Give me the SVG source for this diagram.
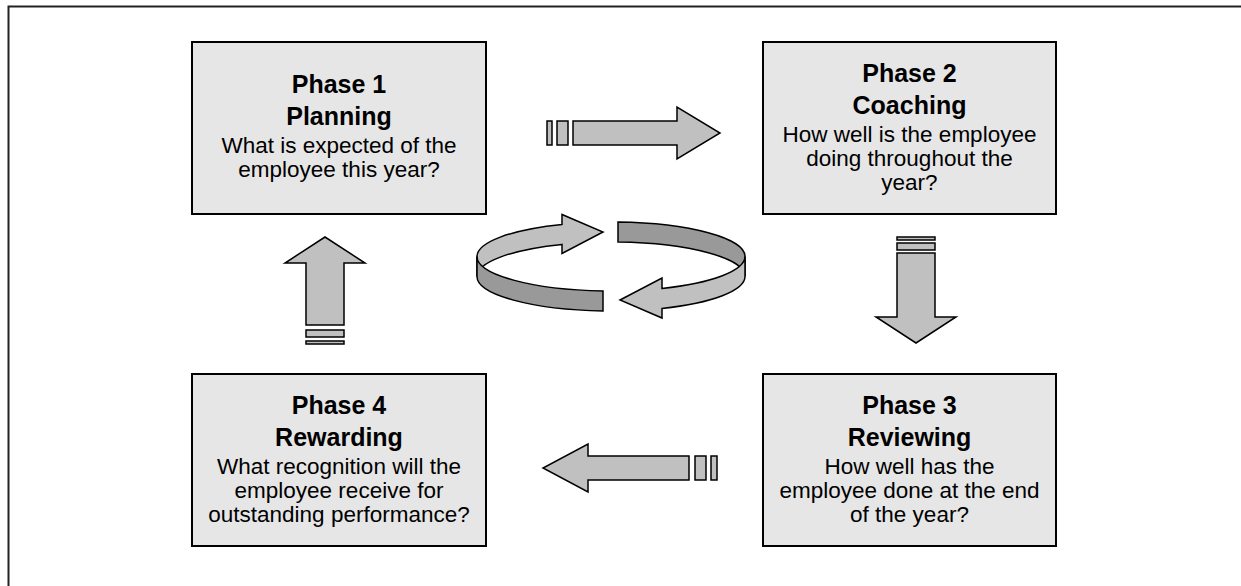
<svg xmlns="http://www.w3.org/2000/svg" width="1241" height="586" viewBox="0 0 1241 586">
<style>
.box{fill:#e6e6e6;stroke:#000;stroke-width:2}
.t{font-family:"Liberation Sans",Arial,sans-serif;fill:#000;text-anchor:middle}
.b{font-weight:bold;font-size:25px}
.r{font-size:22.5px}
.arr{fill:#c0c0c0;stroke:#000;stroke-width:1.5;stroke-linejoin:miter}
.dk{fill:#999999;stroke:#000;stroke-width:1.5}
</style>
<rect width="1241" height="586" fill="#fff"/>
<path d="M8.5,586 V6.5 H1241" fill="none" stroke="#222" stroke-width="2"/>

<g id="phase1">
<rect class="box" x="192" y="42" width="294" height="172"/>
<text class="t b" x="339" y="93">Phase 1</text>
<text class="t b" x="339" y="125">Planning</text>
<text class="t r" x="339" y="153">What is expected of the</text>
<text class="t r" x="339" y="177">employee this year?</text>
</g>

<g id="phase2">
<rect class="box" x="763" y="42" width="293" height="172"/>
<text class="t b" x="909.5" y="82">Phase 2</text>
<text class="t b" x="909.5" y="114">Coaching</text>
<text class="t r" x="909.5" y="142">How well is the employee</text>
<text class="t r" x="909.5" y="166">doing throughout the</text>
<text class="t r" x="909.5" y="190">year?</text>
</g>

<g id="phase3">
<rect class="box" x="763" y="374" width="293" height="172"/>
<text class="t b" x="909.5" y="414">Phase 3</text>
<text class="t b" x="909.5" y="446">Reviewing</text>
<text class="t r" x="909.5" y="474">How well has the</text>
<text class="t r" x="909.5" y="498">employee done at the end</text>
<text class="t r" x="909.5" y="522">of the year?</text>
</g>

<g id="phase4">
<rect class="box" x="192" y="374" width="294" height="172"/>
<text class="t b" x="339" y="414">Phase 4</text>
<text class="t b" x="339" y="446">Rewarding</text>
<text class="t r" x="339" y="474">What recognition will the</text>
<text class="t r" x="339" y="498">employee receive for</text>
<text class="t r" x="339" y="522">outstanding performance?</text>
</g>

<g id="connectors">
<g id="arrow-right">
<rect class="arr" x="547" y="121" width="5" height="24"/>
<rect class="arr" x="557" y="121" width="11" height="24"/>
<polygon class="arr" points="573,121 677,121 677,107 720,133 677,159 677,145 573,145"/>
</g>
<g id="arrow-down">
<rect class="arr" x="897" y="237" width="38" height="3"/>
<rect class="arr" x="897" y="243" width="38" height="7"/>
<polygon class="arr" points="897,253 935,253 935,317 956,317 916,343 876,317 897,317"/>
</g>
<g id="arrow-left">
<polygon class="arr" points="689,456 588,456 588,444 543,468 588,492 588,480 689,480"/>
<rect class="arr" x="695" y="456" width="11" height="24"/>
<rect class="arr" x="711" y="456" width="6" height="24"/>
</g>
<g id="arrow-up">
<polygon class="arr" points="306,325 306,263 285,263 325,237 365,263 344,263 344,325"/>
<rect class="arr" x="306" y="330" width="38" height="7"/>
<rect class="arr" x="306" y="341" width="38" height="3"/>
</g>
<g id="cycle">
<path class="arr" d="M477,256.5 A134,34.5 0 0 1 562,224.4 L562,214.5 L603,232 L562,253.5 L562,244.4 A134,34.5 0 0 0 477,276.5 Z"/>
<path class="dk" d="M477,256.5 A134,34.5 0 0 0 603,290.9 L603,310.9 A134,34.5 0 0 1 477,276.5 Z"/>
<path class="dk" d="M618,222 A134,34.5 0 0 1 745,256.5 L745,276.5 A134,34.5 0 0 0 618,242 Z"/>
<path class="arr" d="M745,256.5 A134,34.5 0 0 1 662,288.4 L662,278 L620,300 L662,318 L662,308.4 A134,34.5 0 0 0 745,276.5 Z"/>
</g>
</g>
</svg>
